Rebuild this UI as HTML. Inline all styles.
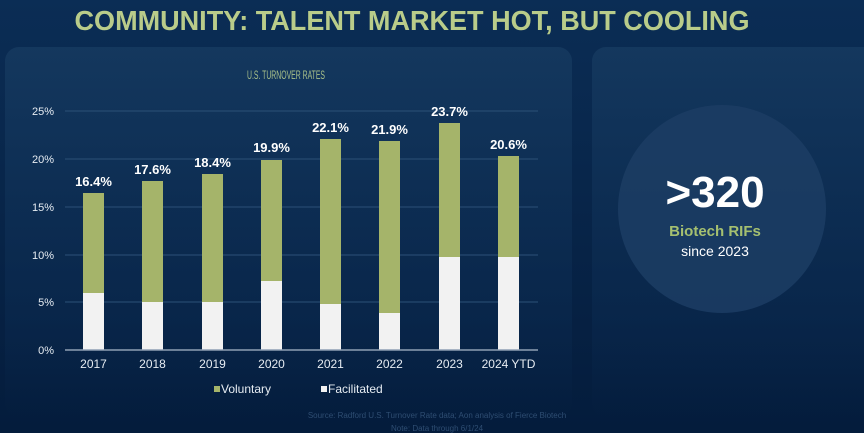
<!DOCTYPE html>
<html><head><meta charset="utf-8"><style>
html,body{margin:0;padding:0;width:864px;height:433px;overflow:hidden;background:#06244a}
svg{display:block}
</style></head><body>
<svg width="864" height="433" viewBox="0 0 864 433" xmlns="http://www.w3.org/2000/svg" font-family="Liberation Sans, sans-serif">
<defs>
<linearGradient id="bg" x1="0" y1="0" x2="0" y2="1"><stop offset="0" stop-color="#0b2d55"/><stop offset="1" stop-color="#041c3c"/></linearGradient>
<linearGradient id="pn" x1="0" y1="0" x2="0" y2="1"><stop offset="0" stop-color="#15395f" stop-opacity="0.9"/><stop offset="0.7" stop-color="#0c2c52" stop-opacity="0.5"/><stop offset="1" stop-color="#0a2a50" stop-opacity="0"/></linearGradient>
</defs>
<rect width="864" height="433" fill="url(#bg)"/>
<rect x="5" y="47" width="567" height="370" rx="14" fill="url(#pn)"/>
<rect x="592" y="47" width="290" height="370" rx="14" fill="url(#pn)"/>
<circle cx="722" cy="209" r="104" fill="#1c3d64" opacity="0.85"/>
<text x="412" y="30" text-anchor="middle" font-size="28" font-weight="bold" fill="#b9cc8a" textLength="675" lengthAdjust="spacingAndGlyphs">COMMUNITY: TALENT MARKET HOT, BUT COOLING</text>
<text x="286" y="79" text-anchor="middle" font-size="12" fill="#a8c08a" textLength="78" lengthAdjust="spacingAndGlyphs">U.S. TURNOVER RATES</text>
<g stroke="#2c5077" stroke-width="1">
<line x1="65" y1="111" x2="538" y2="111"/><line x1="65" y1="159" x2="538" y2="159"/><line x1="65" y1="207" x2="538" y2="207"/><line x1="65" y1="255" x2="538" y2="255"/><line x1="65" y1="302" x2="538" y2="302"/>
</g>
<g font-size="11" fill="#e6ecf2" text-anchor="end">
<text x="54" y="115">25%</text><text x="54" y="163">20%</text><text x="54" y="211">15%</text><text x="54" y="259">10%</text><text x="54" y="306">5%</text><text x="54" y="354">0%</text>
</g>
<g fill="#a5b46a">
<rect x="83" y="193" width="21" height="157"/>
<rect x="142" y="181" width="21" height="169"/>
<rect x="202" y="174" width="21" height="176"/>
<rect x="261" y="160" width="21" height="190"/>
<rect x="320" y="139" width="21" height="211"/>
<rect x="379" y="141" width="21" height="209"/>
<rect x="439" y="123" width="21" height="227"/>
<rect x="498" y="156" width="21" height="194"/>
</g>
<g fill="#f2f2f2">
<rect x="83" y="293" width="21" height="57"/>
<rect x="142" y="302" width="21" height="48"/>
<rect x="202" y="302" width="21" height="48"/>
<rect x="261" y="281" width="21" height="69"/>
<rect x="320" y="304" width="21" height="46"/>
<rect x="379" y="313" width="21" height="37"/>
<rect x="439" y="257" width="21" height="93"/>
<rect x="498" y="257" width="21" height="93"/>
</g>
<line x1="65" y1="350" x2="538" y2="350" stroke="#8fa0b4" stroke-width="1.5"/>
<g font-size="13" font-weight="bold" fill="#fff" text-anchor="middle">
<text x="93.5" y="186">16.4%</text><text x="152.5" y="174">17.6%</text><text x="212.5" y="167">18.4%</text><text x="271.5" y="152">19.9%</text><text x="330.5" y="132">22.1%</text><text x="389.5" y="134">21.9%</text><text x="449.5" y="116">23.7%</text><text x="508.5" y="149">20.6%</text>
</g>
<g font-size="12" fill="#e6ecf2" text-anchor="middle">
<text x="93.5" y="368">2017</text><text x="152.5" y="368">2018</text><text x="212.5" y="368">2019</text><text x="271.5" y="368">2020</text><text x="330.5" y="368">2021</text><text x="389.5" y="368">2022</text><text x="449.5" y="368">2023</text><text x="508.5" y="368">2024 YTD</text>
</g>
<rect x="214" y="386" width="6" height="6" fill="#a5b46a"/>
<text x="221" y="393" font-size="12" fill="#e6ecf2">Voluntary</text>
<rect x="321" y="386" width="6" height="6" fill="#f2f2f2"/>
<text x="328" y="393" font-size="12" fill="#e6ecf2">Facilitated</text>
<text x="437" y="418" text-anchor="middle" font-size="8" fill="#2e4d72">Source: Radford U.S. Turnover Rate data; Aon analysis of Fierce Biotech</text>
<text x="437" y="431" text-anchor="middle" font-size="8" fill="#2e4d72">Note: Data through 6/1/24</text>
<text x="715" y="207" text-anchor="middle" font-size="44" font-weight="bold" fill="#fff">&gt;320</text>
<text x="715" y="236" text-anchor="middle" font-size="15" font-weight="bold" fill="#a5c070">Biotech RIFs</text>
<text x="715" y="256" text-anchor="middle" font-size="14" fill="#fff">since 2023</text>
</svg>
</body></html>
